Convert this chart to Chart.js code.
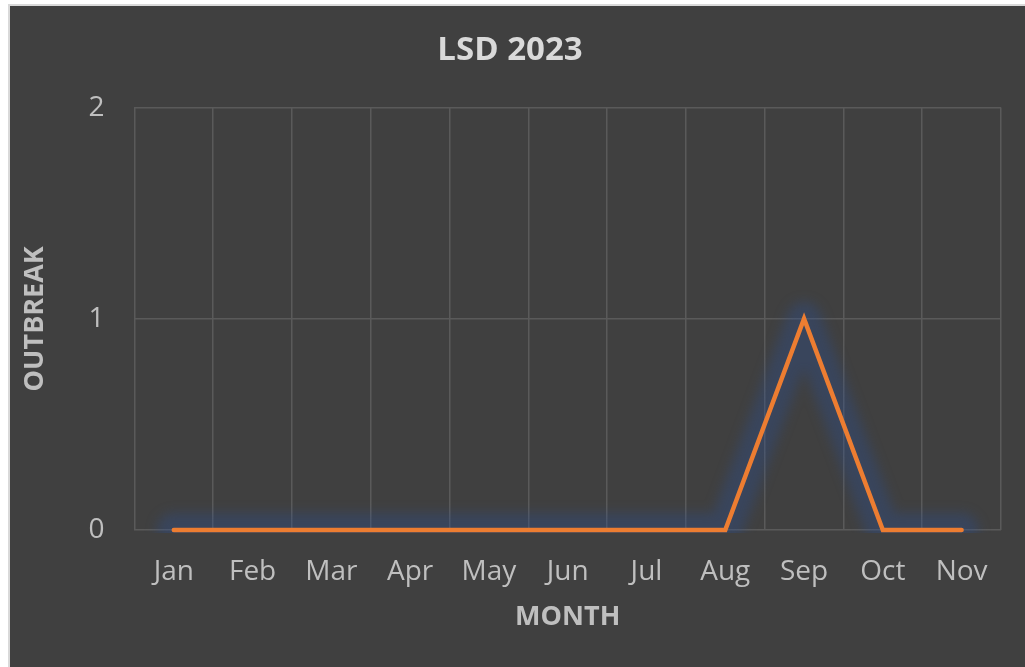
<!DOCTYPE html>
<html>
<head>
<meta charset="utf-8">
<script src="https://cdn.jsdelivr.net/npm/chart.js@4/dist/chart.umd.min.js"></script>
<style>
  html, body { margin: 0; padding: 0; background: #ffffff; }
  #wrap {
    position: absolute; left: 8px; top: 4px;
    width: 1017px; height: 663px;
    background: #404040;
    border-left: 2px solid #d9d9d9; border-top: 2px solid #d9d9d9;
    box-sizing: border-box;
  }
</style>
</head>
<body>
<div id="wrap"><canvas id="chart"></canvas></div>
<script>
// data
const months = ['Jan', 'Feb', 'Mar', 'Apr', 'May', 'Jun', 'Jul', 'Aug', 'Sep', 'Oct', 'Nov'];
const outbreaks = [0, 0, 0, 0, 0, 0, 0, 0, 1, 0, 0];
const yTicks = [0, 1, 2];

// soft blue glow: second copy of the series, blurred, drawn behind the line
const glowLine = {
    id: 'glowLine',
    beforeDatasetDraw(chart, args) {
        if (args.index !== 1) return;
        chart.ctx.save();
        chart.ctx.filter = 'blur(6px)';
    },
    afterDatasetDraw(chart, args) {
        if (args.index !== 1) return;
        chart.ctx.restore();
    }
};

const textColor = '#bfbfbf';
const clipBottom = { left: false, top: false, right: false, bottom: 3 };

new Chart(document.getElementById('chart'), {
    type: 'line',
    data: {
        labels: months,
        datasets: [{
            label: 'Outbreak',
            data: outbreaks,
            borderColor: '#ed7d31',
            borderWidth: 4.5,
            borderCapStyle: 'round',
            pointRadius: 0,
            tension: 0,
            clip: clipBottom
        }, {
            label: 'glow',
            data: outbreaks,
            borderColor: 'rgba(44, 80, 150, 0.33)',
            borderWidth: 34,
            borderCapStyle: 'round',
            borderJoinStyle: 'round',
            pointRadius: 0,
            tension: 0,
            clip: clipBottom
        }]
    },
    options: {
        responsive: true,
        maintainAspectRatio: false,
        animation: false,
        layout: { padding: { left: 9, right: 24, top: 0, bottom: 29 } },
        plugins: {
            legend: { display: false },
            tooltip: { enabled: false },
            title: {
                display: true,
                text: 'LSD 2023',
                color: '#d9d9d9',
                font: { family: 'Open Sans', size: 33, weight: 'bold' },
                padding: { top: 25, bottom: 37 }
            }
        },
        scales: {
            x: {
                offset: true,
                grid: { color: '#5a5a5a', lineWidth: 1.5, offset: true, drawTicks: false },
                border: { display: false },
                ticks: {
                    color: textColor, padding: 25,
                    font: { family: 'Open Sans', size: 28 }
                },
                title: {
                    display: true, text: 'MONTH', color: textColor,
                    font: { family: 'Open Sans', size: 27, weight: 'bold' },
                    padding: { top: -12, bottom: 4 }
                }
            },
            y: {
                min: 0, max: 2,
                afterBuildTicks(axis) { axis.ticks = yTicks.map(v => ({ value: v })); },
                grid: { color: '#5a5a5a', lineWidth: 1.5, drawTicks: false },
                border: { display: false },
                ticks: {
                    color: textColor, padding: 30,
                    font: { family: 'Open Sans', size: 28 }
                },
                title: {
                    display: true, text: 'OUTBREAK', color: textColor,
                    font: { family: 'Open Sans', size: 27, weight: 'bold' },
                    padding: { top: 0, bottom: 7 }
                }
            }
        }
    },
    plugins: [glowLine]
});
</script>
</body>
</html>
